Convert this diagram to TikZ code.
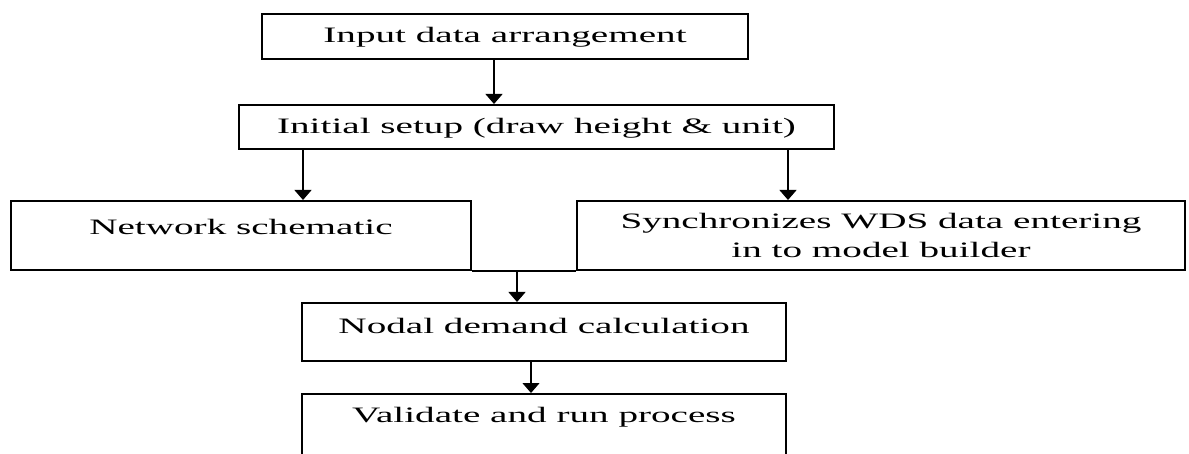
\documentclass[tikz,border=0pt]{standalone}
\usepackage{fontspec}
\setmainfont{Liberation Serif}[FakeStretch=1.78]
\usetikzlibrary{arrows.meta}

\begin{document}
\begin{tikzpicture}[x=1pt,y=-1pt,
	font=\fontsize{22}{29}\selectfont,
	flowbox/.style={draw,line width=2pt,anchor=north,inner xsep=0pt,inner ysep=0pt},
	arr/.style={-{Triangle[width=17pt,length=10pt]},line width=1.2pt}]
\useasboundingbox (0,0) rectangle (1189,454);
\clip (0,0) rectangle (1189,454);

\node[flowbox,minimum width=486pt,text height=29pt,text depth=16pt] (input) at (505,13) {Input data arrangement};
\node[flowbox,minimum width=595pt,text height=29pt,text depth=15pt] (setup) at (536.5,104) {Initial setup (draw height \& unit)};
\node[flowbox,minimum width=460pt,text height=34pt,text depth=35pt] (net) at (241,200) {Network schematic};
\node[flowbox,minimum width=608pt,minimum height=69pt,align=center] (sync) at (881,200) {Synchronizes WDS data entering\\in to model builder};
\node[flowbox,minimum width=484pt,text height=31pt,text depth=27pt] (nodal) at (544,302) {Nodal demand calculation};
\node[flowbox,minimum width=484pt,text height=28pt,text depth=60pt] (valid) at (544,393) {Validate and run process};

\draw[arr] ([xshift=-11pt]input.south) -- ([xshift=-11pt]input.south |- setup.north);
\draw[arr] ([xshift=62pt]net.north |- setup.south) -- ([xshift=62pt]net.north);
\draw[arr] ([xshift=-93pt]sync.north |- setup.south) -- ([xshift=-93pt]sync.north);
% both branches join before the demand step
\draw[line width=1.4pt] (net.south east) -- (sync.south west);
\draw[arr] ([xshift=-27pt]nodal.north |- net.south) -- ([xshift=-27pt]nodal.north);
\draw[arr] ([xshift=-13pt]nodal.south) -- ([xshift=-13pt]nodal.south |- valid.north);
\end{tikzpicture}
\end{document}
